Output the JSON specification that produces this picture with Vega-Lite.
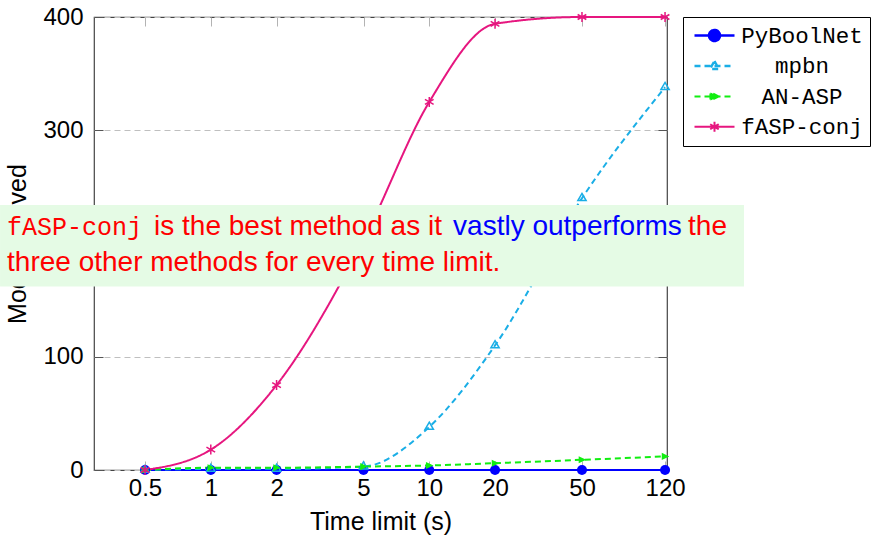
{
  "$schema": "https://vega.github.io/schema/vega-lite/v6.json",
  "width": 573,
  "height": 453,
  "autosize": "none",
  "padding": {"left": 94, "top": 17, "right": 204, "bottom": 71},
  "background": "#ffffff",
  "config": {
    "view": {"stroke": "#444444", "strokeWidth": 1.2},
    "font": "Liberation Sans",
    "axis": {
      "labelFont": "Liberation Sans",
      "labelFontSize": 24,
      "labelColor": "#000000",
      "titleFont": "Liberation Sans",
      "titleFontSize": 25,
      "titleFontWeight": "normal",
      "titleColor": "#000000",
      "domain": false
    }
  },
  "data": {
    "values": [
      {"t": 0.5, "method": "PyBoolNet", "solved": 0},
      {"t": 1, "method": "PyBoolNet", "solved": 0},
      {"t": 2, "method": "PyBoolNet", "solved": 0},
      {"t": 5, "method": "PyBoolNet", "solved": 0},
      {"t": 10, "method": "PyBoolNet", "solved": 0},
      {"t": 20, "method": "PyBoolNet", "solved": 0},
      {"t": 50, "method": "PyBoolNet", "solved": 0},
      {"t": 120, "method": "PyBoolNet", "solved": 0},
      {"t": 0.5, "method": "mpbn", "solved": 0},
      {"t": 1, "method": "mpbn", "solved": 1},
      {"t": 2, "method": "mpbn", "solved": 1},
      {"t": 5, "method": "mpbn", "solved": 3},
      {"t": 10, "method": "mpbn", "solved": 38},
      {"t": 20, "method": "mpbn", "solved": 110},
      {"t": 50, "method": "mpbn", "solved": 240},
      {"t": 120, "method": "mpbn", "solved": 338},
      {"t": 0.5, "method": "AN-ASP", "solved": 0},
      {"t": 1, "method": "AN-ASP", "solved": 2},
      {"t": 2, "method": "AN-ASP", "solved": 2},
      {"t": 5, "method": "AN-ASP", "solved": 3},
      {"t": 10, "method": "AN-ASP", "solved": 4},
      {"t": 20, "method": "AN-ASP", "solved": 6},
      {"t": 50, "method": "AN-ASP", "solved": 9},
      {"t": 120, "method": "AN-ASP", "solved": 12},
      {"t": 0.5, "method": "fASP-conj", "solved": 0},
      {"t": 1, "method": "fASP-conj", "solved": 18},
      {"t": 2, "method": "fASP-conj", "solved": 75},
      {"t": 5, "method": "fASP-conj", "solved": 203},
      {"t": 10, "method": "fASP-conj", "solved": 325},
      {"t": 20, "method": "fASP-conj", "solved": 394},
      {"t": 50, "method": "fASP-conj", "solved": 400},
      {"t": 120, "method": "fASP-conj", "solved": 400}
    ]
  },
  "layer": [
    {
      "mark": {"type": "line", "interpolate": "monotone", "strokeWidth": 2},
      "encoding": {
        "x": {
          "field": "t", "type": "quantitative",
          "scale": {"type": "log", "domain": [0.292, 122.5], "nice": false},
          "axis": {
            "orient": "bottom",
            "values": [0.5, 1, 2, 5, 10, 20, 50, 120],
            "format": "~g",
            "grid": false,
            "tickSize": -9,
            "tickColor": "#b3b3b3",
            "tickWidth": 1,
            "labelPadding": 15,
            "labelFlush": false,
            "title": "Time limit (s)",
            "titlePadding": 9
          }
        },
        "y": {
          "field": "solved", "type": "quantitative",
          "scale": {"domain": [0, 400], "nice": false, "zero": false},
          "axis": {
            "values": [0, 100, 200, 300, 400],
            "grid": true,
            "gridDash": [6, 4],
            "gridColor": "#bfbfbf",
            "gridWidth": 1,
            "tickSize": -9,
            "tickColor": "#555555",
            "labelPadding": 20,
            "title": "Models solved",
            "titlePadding": 12
          }
        },
        "color": {
          "field": "method", "type": "nominal",
          "scale": {
            "domain": ["PyBoolNet", "mpbn", "AN-ASP", "fASP-conj"],
            "range": ["#0000ff", "#1aaee6", "#11ee11", "#e6167f"]
          },
          "legend": {
            "orient": "none",
            "legendX": 589,
            "legendY": 0,
            "title": null,
            "padding": 7,
            "fillColor": "#ffffff",
            "strokeColor": "#000000",
            "cornerRadius": 0,
            "symbolSize": 400,
            "symbolStrokeWidth": 2,
            "labelFont": "Liberation Mono",
            "labelFontSize": 22.5,
            "labelColor": "#000000",
            "labelAlign": "center",
            "labelOffset": 89,
            "labelLimit": 0,
            "rowPadding": 7.5,
            "encode": {
              "symbols": {
                "update": {
                  "shape": {"signal": "datum.value === 'PyBoolNet' ? 'M-0.7,0L3.3,0M0.75,0A0.55,0.55 0 1,0 1.85,0A0.55,0.55 0 1,0 0.75,0Z' : datum.value === 'mpbn' ? 'M-0.7,0L3.3,0M1.3,-0.5L1.75,0.3L0.85,0.3Z' : datum.value === 'AN-ASP' ? 'M-0.7,0L3.3,0M1.7,0L0.9,-0.4L0.9,0.4Z' : 'M-0.7,0L3.3,0M1.3,-0.5L1.3,0.5M0.87,-0.25L1.73,0.25M0.87,0.25L1.73,-0.25'"},
                  "fill": {"signal": "datum.value === 'PyBoolNet' ? '#0000ff' : datum.value === 'AN-ASP' ? '#11ee11' : 'transparent'"},
                  "strokeDash": {"signal": "datum.value === 'mpbn' || datum.value === 'AN-ASP' ? [6, 4] : [1, 0]"},
                  "strokeWidth": {"signal": "datum.value === 'PyBoolNet' ? 2.5 : 2"},
                  "opacity": {"value": 1}
                }
              }
            }
          }
        },
        "strokeDash": {
          "field": "method", "type": "nominal",
          "scale": {
            "domain": ["PyBoolNet", "mpbn", "AN-ASP", "fASP-conj"],
            "range": [[1, 0], [6, 4], [6, 4], [1, 0]]
          },
          "legend": null
        },
        "strokeWidth": {
          "field": "method", "type": "nominal",
          "scale": {
            "domain": ["PyBoolNet", "mpbn", "AN-ASP", "fASP-conj"],
            "range": [2.5, 2, 2, 2]
          },
          "legend": null
        }
      }
    },
    {
      "transform": [{"filter": "datum.method === 'PyBoolNet'"}],
      "mark": {"type": "point", "shape": "circle", "size": 100, "filled": true, "color": "#0000ff", "opacity": 1},
      "encoding": {
        "x": {
          "field": "t", "type": "quantitative",
          "scale": {"type": "log", "domain": [0.292, 122.5], "nice": false},
          "axis": {
            "orient": "top",
            "values": [0.5, 1, 2, 5, 10, 20, 50, 120],
            "labels": false,
            "grid": false,
            "tickSize": -9,
            "tickColor": "#b3b3b3",
            "title": null
          }
        },
        "y": {
          "field": "solved", "type": "quantitative",
          "scale": {"domain": [0, 400], "nice": false, "zero": false},
          "axis": {
            "orient": "right",
            "values": [0, 100, 200, 300, 400],
            "labels": false,
            "grid": false,
            "tickSize": -9,
            "tickColor": "#555555",
            "title": null
          }
        }
      }
    },
    {
      "transform": [{"filter": "datum.method === 'mpbn'"}],
      "mark": {"type": "point", "shape": "M0,-1L0.87,0.5L-0.87,0.5Z", "size": 90, "filled": false, "color": "#1aaee6", "strokeWidth": 1.5, "opacity": 1},
      "encoding": {
        "x": {"field": "t", "type": "quantitative", "scale": {"type": "log", "domain": [0.292, 122.5], "nice": false}, "axis": null},
        "y": {"field": "solved", "type": "quantitative", "scale": {"domain": [0, 400], "nice": false, "zero": false}, "axis": null}
      }
    },
    {
      "transform": [{"filter": "datum.method === 'AN-ASP'"}],
      "mark": {"type": "point", "shape": "M0.9,0L-0.7,-0.75L-0.7,0.75Z", "size": 90, "filled": true, "color": "#11ee11", "opacity": 1},
      "encoding": {
        "x": {"field": "t", "type": "quantitative", "scale": {"type": "log", "domain": [0.292, 122.5], "nice": false}, "axis": null},
        "y": {"field": "solved", "type": "quantitative", "scale": {"domain": [0, 400], "nice": false, "zero": false}, "axis": null}
      }
    },
    {
      "transform": [{"filter": "datum.method === 'fASP-conj'"}],
      "mark": {"type": "point", "shape": "M0,-1L0,1M-0.87,-0.5L0.87,0.5M-0.87,0.5L0.87,-0.5", "size": 100, "filled": false, "color": "#e6167f", "strokeWidth": 1.5, "opacity": 1},
      "encoding": {
        "x": {"field": "t", "type": "quantitative", "scale": {"type": "log", "domain": [0.292, 122.5], "nice": false}, "axis": null},
        "y": {"field": "solved", "type": "quantitative", "scale": {"domain": [0, 400], "nice": false, "zero": false}, "axis": null}
      }
    },
    {
      "data": {"values": [{"note": "box"}]},
      "mark": {"type": "rect", "color": "#e5fbe5"},
      "encoding": {
        "x": {"datum": 0.1085, "type": "quantitative", "scale": {"type": "log", "domain": [0.292, 122.5], "nice": false}, "axis": null},
        "x2": {"datum": 275.7},
        "y": {"datum": 234, "type": "quantitative", "scale": {"domain": [0, 400], "nice": false, "zero": false}, "axis": null},
        "y2": {"datum": 162}
      }
    },
    {
      "data": {"values": [{"note": "fASP-conj"}]},
      "mark": {"type": "text", "font": "Liberation Mono", "fontSize": 25, "color": "#ff0000", "align": "left", "baseline": "alphabetic"},
      "encoding": {
        "text": {"field": "note"},
        "x": {"datum": 0.1168, "type": "quantitative", "scale": {"type": "log", "domain": [0.292, 122.5], "nice": false}, "axis": null},
        "y": {"datum": 207.5, "type": "quantitative", "scale": {"domain": [0, 400], "nice": false, "zero": false}, "axis": null}
      }
    },
    {
      "data": {"values": [{"note": "is the best method as it"}]},
      "mark": {"type": "text", "font": "Liberation Sans", "fontSize": 28, "color": "#ff0000", "align": "left", "baseline": "alphabetic"},
      "encoding": {
        "text": {"field": "note"},
        "x": {"datum": 0.5498, "type": "quantitative", "scale": {"type": "log", "domain": [0.292, 122.5], "nice": false}, "axis": null},
        "y": {"datum": 207.5, "type": "quantitative", "scale": {"domain": [0, 400], "nice": false, "zero": false}, "axis": null}
      }
    },
    {
      "data": {"values": [{"note": "vastly outperforms"}]},
      "mark": {"type": "text", "font": "Liberation Sans", "fontSize": 28, "color": "#0000ff", "align": "left", "baseline": "alphabetic"},
      "encoding": {
        "text": {"field": "note"},
        "x": {"datum": 12.85, "type": "quantitative", "scale": {"type": "log", "domain": [0.292, 122.5], "nice": false}, "axis": null},
        "y": {"datum": 207.5, "type": "quantitative", "scale": {"domain": [0, 400], "nice": false, "zero": false}, "axis": null}
      }
    },
    {
      "data": {"values": [{"note": "the"}]},
      "mark": {"type": "text", "font": "Liberation Sans", "fontSize": 28, "color": "#ff0000", "align": "left", "baseline": "alphabetic"},
      "encoding": {
        "text": {"field": "note"},
        "x": {"datum": 152.9, "type": "quantitative", "scale": {"type": "log", "domain": [0.292, 122.5], "nice": false}, "axis": null},
        "y": {"datum": 207.5, "type": "quantitative", "scale": {"domain": [0, 400], "nice": false, "zero": false}, "axis": null}
      }
    },
    {
      "data": {"values": [{"note": "three other methods for every time limit."}]},
      "mark": {"type": "text", "font": "Liberation Sans", "fontSize": 28, "color": "#ff0000", "align": "left", "baseline": "alphabetic"},
      "encoding": {
        "text": {"field": "note"},
        "x": {"datum": 0.1168, "type": "quantitative", "scale": {"type": "log", "domain": [0.292, 122.5], "nice": false}, "axis": null},
        "y": {"datum": 176, "type": "quantitative", "scale": {"domain": [0, 400], "nice": false, "zero": false}, "axis": null}
      }
    }
  ],
  "resolve": {"axis": {"x": "independent", "y": "independent"}}
}
